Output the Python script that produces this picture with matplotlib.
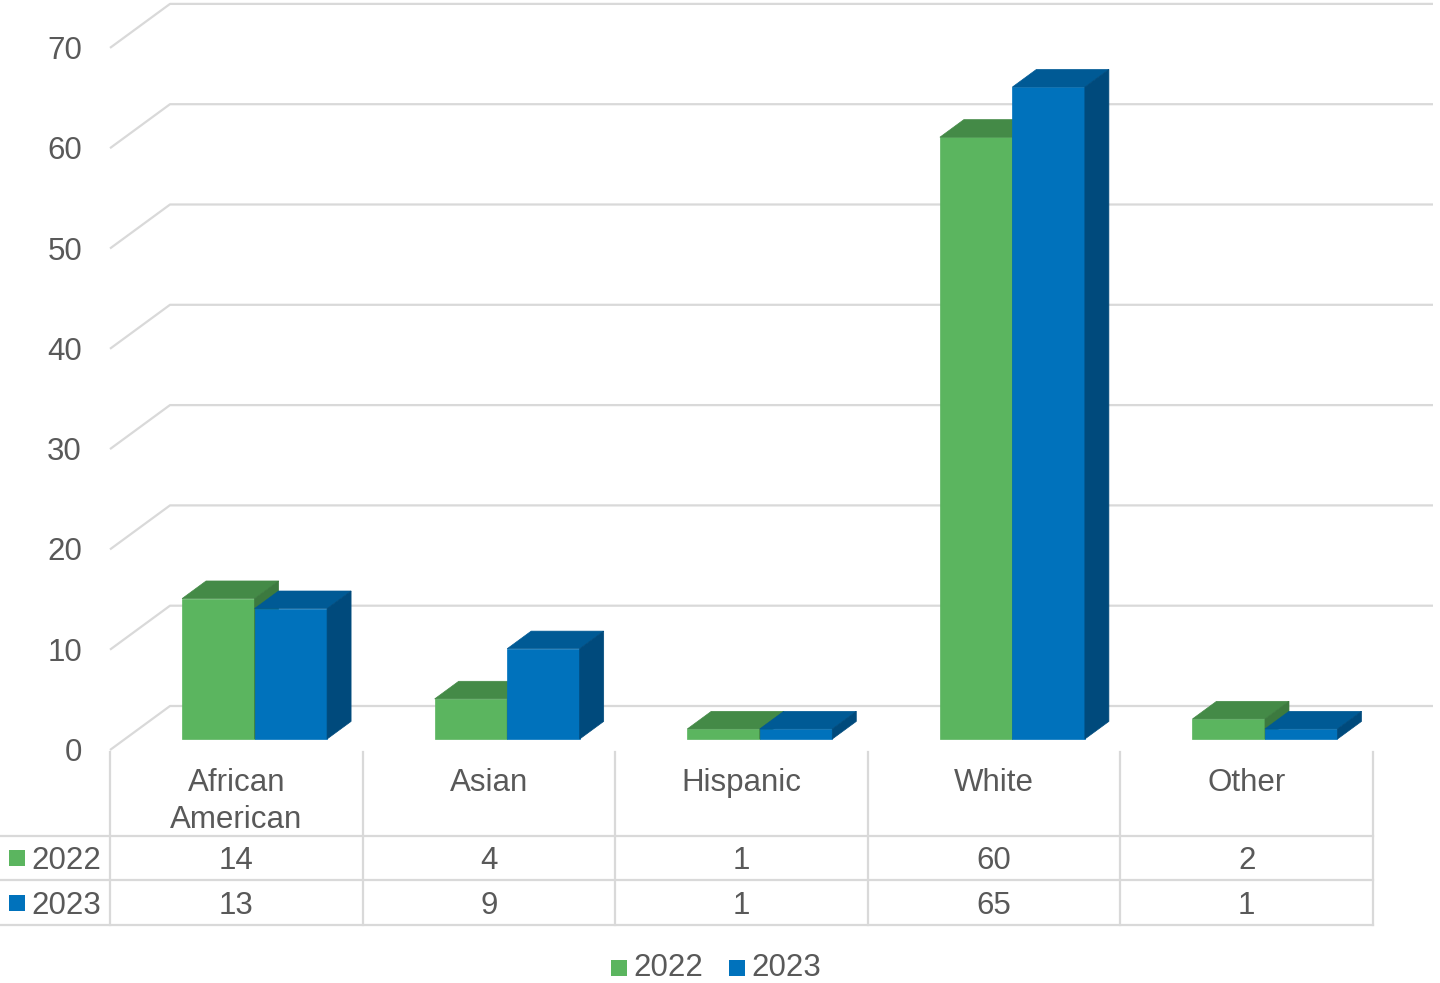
import matplotlib
matplotlib.use("Agg")
import matplotlib.pyplot as plt
from matplotlib.patches import Polygon, Rectangle
from matplotlib.transforms import blended_transform_factory

# data
categories = ["African\nAmerican", "Asian", "Hispanic", "White", "Other"]
series_names = ["2022", "2023"]
values_2022 = [14, 4, 1, 60, 2]
values_2023 = [13, 9, 1, 65, 1]
y_ticks = [0, 10, 20, 30, 40, 50, 60, 70]

# colours: front, top, side
green = ("#5bb55f", "#448a47", "#3c7a3f")
blue = ("#0072bc", "#005a95", "#004a7c")
grid_col = "#d9d9d9"
text_col = "#595959"

W, H = 1440, 983
CAT_PX = 252.6        # width of one category on the front plane
UNIT_PX = 10.03       # pixels per value unit
LEFT_PX, ZERO_PX = 110, 750

# oblique depth offset (front plane -> back wall), in data units
DX = 60 / CAT_PX
DY = 44 / UNIT_PX
D_FRONT, D_BACK = 0.25, 0.65
BAR_W = 0.287
BAR_SHIFT = 0.013

plt.rcParams["font.family"] = ["Liberation Sans", "DejaVu Sans"]
FS = 22.5
TXT_DROP = 3  # px, digits sit a little low compared to the text box centre

fig = plt.figure(figsize=(W / 100, H / 100), dpi=100)
ax = fig.add_axes([0, 0, 1, 1])
x0 = -0.5 - LEFT_PX / CAT_PX
ax.set_xlim(x0, x0 + W / CAT_PX)
ax.set_ylim(-(H - ZERO_PX) / UNIT_PX, ZERO_PX / UNIT_PX)
ax.axis("off")

n = len(categories)
# y in figure pixels (from top), x in data units
tr = blended_transform_factory(ax.transData, fig.transFigure)


def fy(py):
    return 1 - py / H


def proj(x, v, d):
    return (x + d * DX, v + d * DY)


# gridlines: slanted on the side wall, flat on the back wall
for t in y_ticks:
    xs = [-0.5, -0.5 + DX, n - 0.5 + DX]
    ys = [t, t + DY, t + DY]
    ax.plot(xs, ys, color=grid_col, lw=1.6, zorder=1, solid_capstyle="butt")
    ax.text(x0 + 82 / CAT_PX, t - TXT_DROP / UNIT_PX, str(t), ha="right",
            va="center", fontsize=FS, color=text_col)

# 3D columns
for i in range(n):
    for s, (vals, cols) in enumerate([(values_2022, green), (values_2023, blue)]):
        v = vals[i]
        xl = i + BAR_SHIFT - BAR_W + s * BAR_W
        xr = xl + BAR_W
        front = [proj(xl, 0, D_FRONT), proj(xr, 0, D_FRONT),
                 proj(xr, v, D_FRONT), proj(xl, v, D_FRONT)]
        top = [proj(xl, v, D_FRONT), proj(xr, v, D_FRONT),
               proj(xr, v, D_BACK), proj(xl, v, D_BACK)]
        side = [proj(xr, 0, D_FRONT), proj(xr, 0, D_BACK),
                proj(xr, v, D_BACK), proj(xr, v, D_FRONT)]
        z = 3 + i * 2 + s
        for poly, c in [(front, cols[0]), (top, cols[1]), (side, cols[2])]:
            ax.add_patch(Polygon(poly, closed=True, facecolor=c,
                                 edgecolor=c, lw=0.5, zorder=z))

# data table below the plot
row_lines = [836, 880, 925]
for k in range(n + 1):
    ax.plot([k - 0.5, k - 0.5], [fy(752), fy(925)], transform=tr,
            color=grid_col, lw=1.6, zorder=1)
for py in row_lines:
    ax.plot([x0, n - 0.5], [fy(py), fy(py)], transform=tr,
            color=grid_col, lw=1.6, zorder=1)

for i, cat in enumerate(categories):
    ax.text(i, fy(768), cat, transform=tr, ha="center", va="top",
            fontsize=FS, color=text_col, linespacing=1.3)
    ax.text(i, fy(858 + TXT_DROP), str(values_2022[i]), transform=tr,
            ha="center", va="center", fontsize=FS, color=text_col)
    ax.text(i, fy(903 + TXT_DROP), str(values_2023[i]), transform=tr,
            ha="center", va="center", fontsize=FS, color=text_col)

ftr = fig.transFigure
for name, cols, py in [(series_names[0], green, 858), (series_names[1], blue, 903)]:
    fig.patches.append(Rectangle((9 / W, fy(py + 8)), 16 / W, 16 / H,
                                 transform=ftr, facecolor=cols[0], lw=0))
    fig.text(31 / W, fy(py + TXT_DROP), name, ha="left", va="center",
             fontsize=FS, color=text_col)

# legend at the bottom
for name, cols, px in [(series_names[0], green, 611), (series_names[1], blue, 729)]:
    fig.patches.append(Rectangle((px / W, fy(976)), 16 / W, 16 / H,
                                 transform=ftr, facecolor=cols[0], lw=0))
    fig.text((px + 22) / W, fy(968.5), name, ha="left", va="center",
             fontsize=FS, color=text_col)

fig.savefig("out.png", dpi=100, facecolor="white")
